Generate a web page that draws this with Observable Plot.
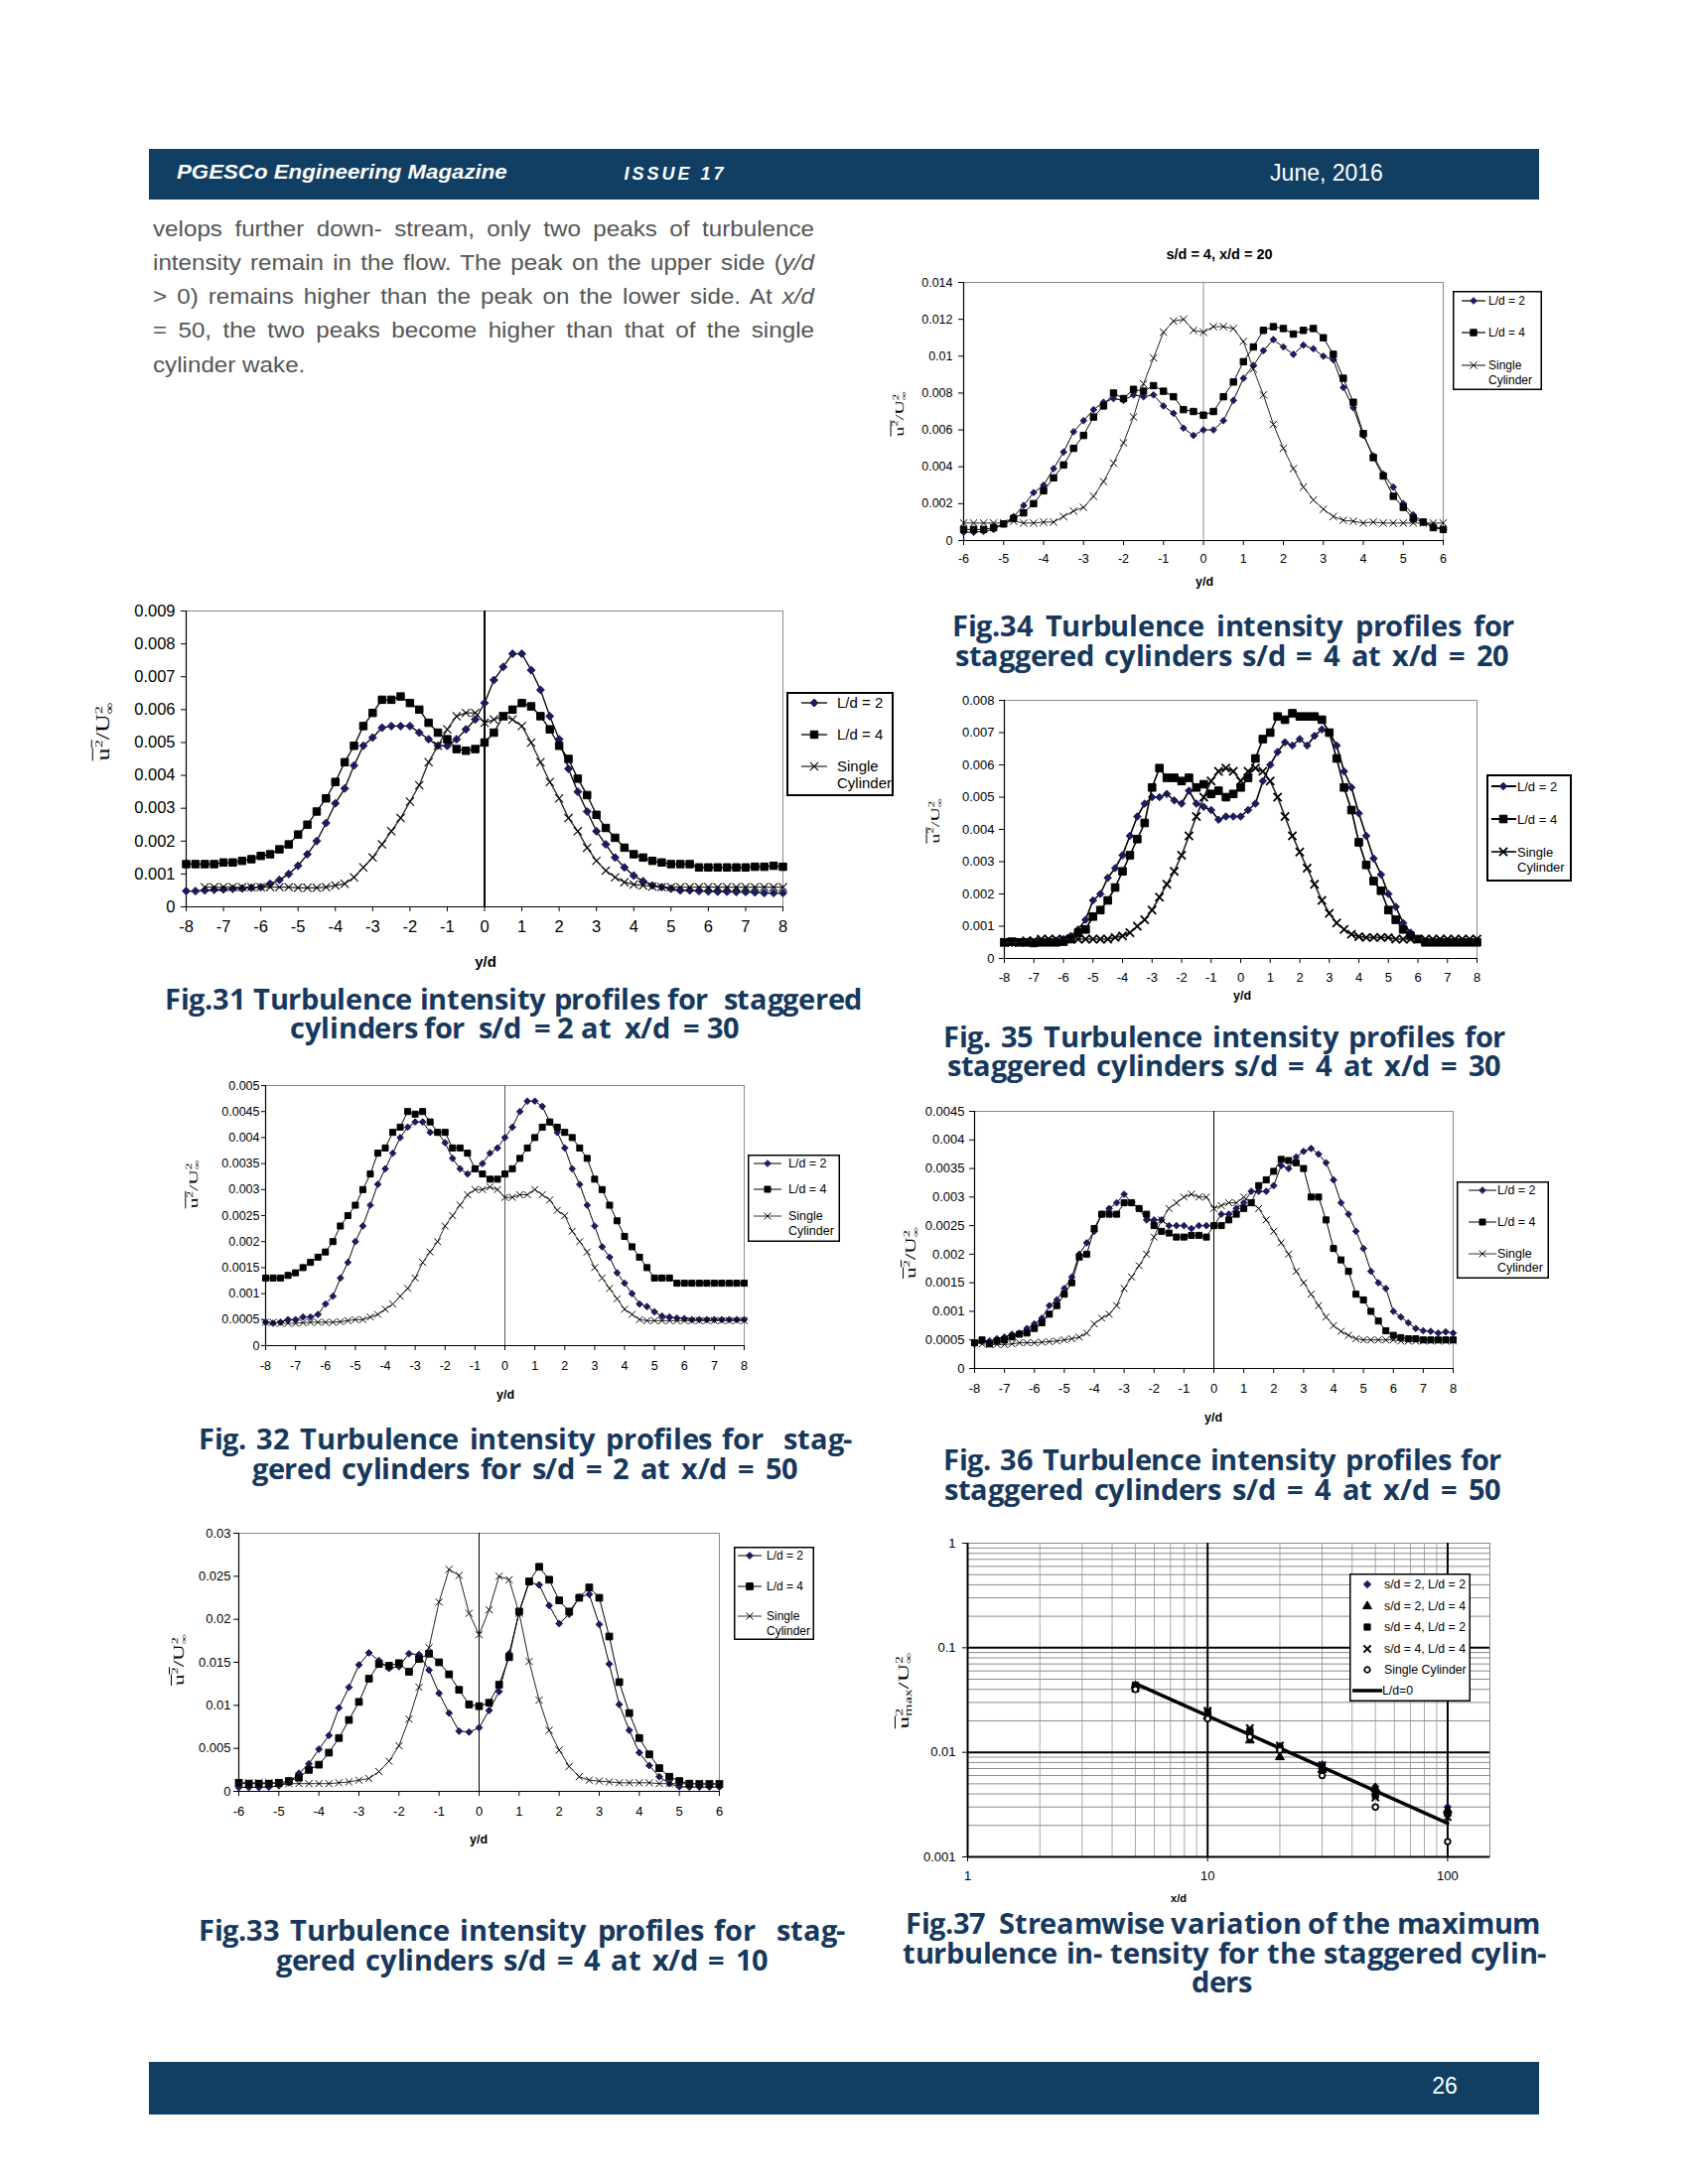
<!DOCTYPE html>
<html><head><meta charset="utf-8">
<script src="https://cdn.jsdelivr.net/npm/d3@7"></script>
<script src="https://cdn.jsdelivr.net/npm/@observablehq/plot@0.6"></script>
<style>
@font-face{font-family:"CapOS";src:local("Open Sans Bold"),local("OpenSans-Bold");font-weight:700;ascent-override:78%;descent-override:22%;line-gap-override:0%;}
html,body{margin:0;padding:0;background:#fff;}
#page{position:relative;width:1700px;height:2200px;background:#fff;overflow:hidden;font-family:"Liberation Sans",Arial,sans-serif;}
.ylab{position:absolute;white-space:nowrap;font-family:"Liberation Serif","Times New Roman",serif;color:#000;}
</style>
</head><body><div id="page"></div>
<script>
// ---------- shared axis values ----------
const xs8 = [-8,-7.75,-7.5,-7.25,-7,-6.75,-6.5,-6.25,-6,-5.75,-5.5,-5.25,-5,-4.75,-4.5,-4.25,-4,-3.75,-3.5,-3.25,-3,-2.75,-2.5,-2.25,-2,-1.75,-1.5,-1.25,-1,-0.75,-0.5,-0.25,0,0.25,0.5,0.75,1,1.25,1.5,1.75,2,2.25,2.5,2.75,3,3.25,3.5,3.75,4,4.25,4.5,4.75,5,5.25,5.5,5.75,6,6.25,6.5,6.75,7,7.25,7.5,7.75,8];
const xs6 = [-6,-5.75,-5.5,-5.25,-5,-4.75,-4.5,-4.25,-4,-3.75,-3.5,-3.25,-3,-2.75,-2.5,-2.25,-2,-1.75,-1.5,-1.25,-1,-0.75,-0.5,-0.25,0,0.25,0.5,0.75,1,1.25,1.5,1.75,2,2.25,2.5,2.75,3,3.25,3.5,3.75,4,4.25,4.5,4.75,5,5.25,5.5,5.75,6];
const ticksX8 = [-8,-7,-6,-5,-4,-3,-2,-1,0,1,2,3,4,5,6,7,8];
const ticksX6 = [-6,-5,-4,-3,-2,-1,0,1,2,3,4,5,6];
const seriesNames = ["L/d = 2", "L/d = 4", "Single Cylinder"];

// ---------- Fig.31  s/d = 2, x/d = 30 ----------
const f31TicksY = [0,0.001,0.002,0.003,0.004,0.005,0.006,0.007,0.008,0.009];
const f31_L2 = [
.00048,.00048,.0005,.00052,
.00053,.00055,.00056,.00058,
.0006,.0007,.00082,.001,
.00125,.0016,.002,.00255,
.00315,.0036,.0043,.0049,
.00515,.00545,.0055,.0055,
.0055,.0053,.0051,.0049,
.0049,.0051,.0054,.0057,
.0062,.0069,.0073,.0077,
.0077,.0072,.0066,.0058,
.0051,.0042,.0035,.0029,
.0023,.0019,.0015,.0012,
.00095,.00078,.00065,.0006,
.00055,.0005,.0005,.00048,
.00047,.00046,.00046,.00045,
.00045,.00044,.00042,.00042,
.00042];
const f31_L4 = [
.0013,.0013,.0013,.0013,
.00135,.00135,.0014,.00145,
.00155,.0016,.00175,.0019,
.0022,.0025,.0029,.0033,
.0038,.0044,.0049,.0055,
.0059,.0063,.0063,.0064,
.0062,.006,.0056,.0053,
.0051,.0048,.00475,.0048,
.005,.0053,.0058,.006,
.0062,.0061,.0058,.0054,
.0049,.0045,.0039,.0034,
.0028,.0024,.0021,.0018,
.0016,.0015,.0014,.00135,
.0013,.0013,.0013,.0012,
.0012,.0012,.0012,.0012,
.0012,.00122,.00122,.00125,
.00122];
const f31_S = [
null,null,.0006,.0006,
.0006,.0006,.0006,.0006,
.0006,.0006,.0006,.0006,
.00058,.00058,.00058,.0006,
.00065,.0007,.0009,.0012,
.0015,.0019,.0023,.0027,
.0032,.0037,.0044,.0049,
.0054,.0058,.0059,.0059,
.0056,.0057,.0058,.0057,
.0055,.005,.0044,.0038,
.0033,.0027,.0023,.0018,
.0014,.0011,.0009,.00075,
.00068,.00065,.00062,.0006,
.0006,.0006,.0006,.0006,
.0006,.0006,.0006,.0006,
.0006,.0006,.0006,.0006,
.0006];

// ---------- Fig.34  s/d = 4, x/d = 20 ----------
const f34TicksY = [0,0.002,0.004,0.006,0.008,0.01,0.012,0.014];
const f34_L2 = [
.00045,.00045,.0005,.0006,
.0009,.0013,.0019,.0026,
.003,.0039,.0048,.0059,
.0065,.0071,.0075,.0077,
.0076,.0079,.0078,.0079,
.0073,.0069,.0061,.0057,
.006,.006,.0065,.0076,
.0088,.0095,.0103,.0109,
.0105,.0101,.0106,.0104,
.01,.0098,.0083,.0072,
.0057,.0046,.0036,.0029,
.002,.0014,.001,.0008,
.0006];
const f34_L4 = [
.0006,.0006,.0006,.0007,
.0009,.0012,.0015,.002,
.0027,.0034,.0041,.005,
.0057,.0067,.0073,.008,
.0077,.0082,.0081,.0084,
.0081,.0078,.0071,.007,
.0068,.007,.0078,.0086,
.0097,.0105,.0114,.0116,
.0115,.0112,.0114,.0115,
.011,.0101,.0088,.0075,
.0058,.0045,.0035,.0024,
.0018,.0012,.001,.0007,
.0006];
const f34_S = [
.00095,.00095,.00095,.00095,
.00095,.00105,.00095,.00095,
.001,.001,.0013,.0016,
.0018,.0024,.0032,.0042,
.0053,.0067,.0085,.0099,
.0113,.0119,.012,.0114,
.0113,.0116,.0116,.0115,
.0108,.0093,.0079,.0063,
.005,.0039,.0029,.0022,
.0017,.0013,.0011,.00105,
.00095,.001,.00095,.00095,
.00095,.00095,.00095,.00095,
.00095];

// ---------- Fig.35  s/d = 4, x/d = 30 ----------
const f35TicksY = [0,0.001,0.002,0.003,0.004,0.005,0.006,0.007,0.008];
const f35_L2 = [
.00048,.00048,.0005,.0005,
.0005,.0005,.00052,.00055,
.0006,.0007,.0009,.0012,
.0018,.002,.0025,.0028,
.0032,.0038,.0044,.0048,
.005,.005,.0051,.0049,
.0048,.0052,.0048,.0047,
.0046,.0043,.0044,.0044,
.0044,.0046,.0048,.0055,
.006,.0064,.0067,.0066,
.0068,.0066,.0069,.0071,
.007,.0066,.0058,.0053,
.0045,.0038,.0031,.0026,
.002,.0016,.0011,.0008,
.0006,.0005,.0005,.0005,
.0005,.0005,.0005,.0005,
.0005];
const f35_L4 = [
.0005,.00052,.0005,.0005,
.00048,.0005,.0005,.0005,
.00052,.0006,.0008,.0009,
.0013,.0015,.0018,.0022,
.0027,.0032,.0037,.0042,
.0053,.0059,.0056,.0056,
.0055,.0056,.0053,.0054,
.0051,.0052,.005,.0051,
.0053,.0056,.0062,.0068,
.007,.0075,.0074,.0076,
.0075,.0075,.0075,.0074,
.007,.0062,.0053,.0046,
.0036,.0029,.0024,.0021,
.0015,.0012,.0009,.0007,
.0006,.0005,.0005,.0005,
.0005,.0005,.0005,.0005,
.0005];
const f35_S = [
.0005,.0005,.0005,.00055,
.00055,.0006,.0006,.0006,
.0006,.0006,.0006,.0006,
.0006,.0006,.0006,.00065,
.0007,.0008,.001,.0012,
.0015,.0019,.0023,.0027,
.0032,.0038,.0044,.005,
.0055,.0058,.0059,.0058,
.0055,.0058,.0059,.0058,
.0055,.005,.0044,.0038,
.0033,.0028,.0023,.0018,
.0014,.0011,.0009,.00075,
.00068,.00065,.00065,.00065,
.00065,.0006,.0006,.0006,
.0006,.0006,.0006,.0006,
.0006,.0006,.0006,.0006,
.0006];

// ---------- Fig.32  s/d = 2, x/d = 50 ----------
const f32TicksY = [0,0.0005,0.001,0.0015,0.002,0.0025,0.003,0.0035,0.004,0.0045,0.005];
const f32_L2 = [
.00045,.00043,.00045,.0005,
.0005,.00055,.00055,.0006,
.0008,.00095,.0013,.0016,
.002,.0023,.0027,.0031,
.0034,.0037,.004,.0042,
.0043,.0043,.0041,.0041,
.0039,.0036,.0034,.0033,
.0034,.0035,.0037,.0038,
.004,.0042,.0045,.0047,
.0047,.0046,.0043,.0041,
.0038,.0034,.0031,.0027,
.0023,.0019,.0017,.0014,
.0012,.001,.0008,.00075,
.00065,.00057,.00055,.00053,
.00052,.0005,.0005,.0005,
.0005,.0005,.0005,.0005,
.0005];
const f32_L4 = [
.0013,.0013,.0013,.00135,
.0014,.0015,.0016,.0017,
.0018,.002,.0023,.0025,
.0027,.003,.0033,.0037,
.0038,.0041,.0042,.0045,
.00445,.0045,.0043,.0041,
.0041,.0038,.0038,.0037,
.0034,.0033,.0032,.0032,
.0033,.0034,.0036,.0038,
.004,.0042,.0043,.0042,
.0041,.004,.0038,.0036,
.0032,.003,.0027,.0024,
.0021,.0019,.0017,.0015,
.0013,.0013,.0013,.0012,
.0012,.0012,.0012,.0012,
.0012,.0012,.0012,.0012,
.0012];
const f32_S = [
.00045,.00045,.00043,.00043,
.00043,.00044,.00045,.00045,
.00045,.00045,.00046,.00048,
.0005,.0005,.00055,.0006,
.0007,.0008,.00095,.0011,
.0013,.0016,.0018,.002,
.0023,.0025,.0027,.0029,
.003,.003,.00305,.003,
.00285,.00285,.0029,.0029,
.003,.0029,.0028,.0026,
.0025,.0022,.002,.0018,
.0015,.0013,.0011,.0009,
.0007,.0006,.0005,.00048,
.00048,.00048,.00048,.00048,
.00048,.00048,.00048,.00048,
.00048,.00048,.00048,.00048,
.00048];

// ---------- Fig.36  s/d = 4, x/d = 50 ----------
const f36TicksY = [0,0.0005,0.001,0.0015,0.002,0.0025,0.003,0.0035,0.004,0.0045];
const f36_L2 = [
.00043,.00048,.00048,.00052,
.00055,.0006,.00062,.0007,
.00078,.00088,.0011,.0012,
.0014,.0016,.002,.0022,
.0024,.0027,.0028,.0029,
.00305,.0029,.0028,.0026,
.0026,.0026,.0025,.0025,
.0025,.00245,.0025,.0025,
.0025,.0027,.0027,.0028,
.0029,.0031,.0031,.0031,
.0032,.00355,.0035,.0037,
.0038,.00385,.00375,.0036,
.0033,.0029,.0027,.0024,
.0021,.0017,.0015,.0014,
.001,.0009,.0008,.0007,
.00066,.00065,.00062,.00064,
.00062];
const f36_L4 = [
.00045,.0005,.00043,.00048,
.0005,.00055,.0006,.00062,
.0007,.0008,.00095,.0011,
.0013,.0015,.00195,.002,
.00245,.0027,.0027,.0027,
.0029,.0029,.0028,.0027,
.0025,.0024,.00237,.0023,
.0023,.00233,.00233,.0023,
.0025,.0025,.0026,.0027,
.0028,.0029,.0032,.0033,
.00345,.00366,.00364,.0036,
.0035,.003,.003,.0026,
.0021,.0019,.0017,.0013,
.0012,.001,.00083,.00066,
.00058,.00054,.00052,.00052,
.0005,.0005,.0005,.0005,
.0005];
const f36_S = [
.00045,.00043,.00042,.00042,
.00042,.00043,.00045,.00045,
.00045,.00046,.00047,.00048,
.0005,.00052,.00055,.00062,
.00078,.00088,.00095,.0011,
.0014,.0016,.0018,.002,
.0023,.0026,.0028,.0029,
.003,.00305,.003,.003,
.0028,.00285,.0029,.0029,
.003,.0029,.0028,.0026,
.0024,.0022,.002,.0017,
.0015,.0013,.0011,.0009,
.00075,.00065,.00058,.00052,
.0005,.0005,.0005,.0005,
.0005,.00048,.00048,.00048,
.00048,.00048,.00048,.00048,
.00048];

// ---------- Fig.33  s/d = 4, x/d = 10 ----------
const f33TicksY = [0,0.005,0.01,0.015,0.02,0.025,0.03];
const f33_L2 = [
.00046,.00046,.00046,.0005,
.00065,.001,.0021,.0032,
.0049,.0065,.0097,.0121,
.0147,.0161,.0152,.0143,
.0145,.016,.0159,.0141,
.0114,.0091,.007,.0069,
.0074,.0094,.0116,.016,
.0208,.0243,.024,.0216,
.0195,.0206,.0226,.0229,
.0194,.0148,.0101,.0071,
.0045,.003,.0017,.0009,
.00054,.0005,.0005,.0005,
.0005];
const f33_L4 = [
.001,.0009,.0009,.0009,
.001,.0012,.0016,.0025,
.0031,.0045,.0062,.0083,
.0104,.0131,.0148,.0146,
.0149,.0139,.0154,.016,
.015,.0136,.0118,.0101,
.0099,.0103,.0124,.0156,
.0209,.0244,.0261,.0246,
.0222,.0209,.0225,.0237,
.0225,.018,.0127,.0091,
.0062,.0043,.0027,.0017,
.0012,.0009,.00085,.00085,
.00085];
const f33_S = [
.001,.001,.001,.001,
.001,.0009,.0009,.0009,
.0009,.0009,.001,.0011,
.0013,.0015,.0023,.0035,
.0053,.0084,.0121,.0167,
.022,.0258,.0251,.0207,
.0182,.0211,.025,.0246,
.0207,.0151,.0106,.0071,
.0048,.0029,.0017,.0013,
.0012,.0011,.001,.001,
.001,.001,.0009,.0009,
.0009,.0009,.0009,.0009,
.0009];

// ---------- Fig.37  maximum turbulence intensity vs x/d ----------
const f37_xd = [5, 10, 15, 20, 30, 50, 100];
const f37_s2L2 = [0.042, 0.023, 0.015, 0.0115, 0.0077, 0.0047, 0.0030];
const f37_s2L4 = [0.043, 0.022, 0.013, 0.009, 0.0068, 0.0045, 0.0028];
const f37_s4L2 = [0.044, 0.0243, 0.016, 0.011, 0.0071, 0.0039, 0.0026];
const f37_s4L4 = [0.041, 0.025, 0.017, 0.0116, 0.0075, 0.0037, 0.0024];
const f37_single = [0.040, 0.021, 0.014, 0.0105, 0.006, 0.003, 0.0014];
const f37_fitX = [5, 100];
const f37_fitY = [0.0455, 0.0021];
const f37Names = ["s/d = 2, L/d = 2", "s/d = 2, L/d = 4", "s/d = 4, L/d = 2", "s/d = 4, L/d = 4", "Single Cylinder", "L/d=0"];
const f37TicksX = [1, 10, 100];
const f37TicksY = [0.001, 0.01, 0.1, 1];
const f37MinorX = [2,3,4,5,6,7,8,9,20,30,40,50,60,70,80,90];
const f37MinorY = [0.002,0.003,0.004,0.005,0.006,0.007,0.008,0.009,0.02,0.03,0.04,0.05,0.06,0.07,0.08,0.09,0.2,0.3,0.4,0.5,0.6,0.7,0.8,0.9];
const f37MajorX = [10, 100];
const f37MajorY = [0.01, 0.1];

// ---------- helpers ----------
const page = document.getElementById("page");
const NAVY = "#1b1b5e";
const CAP = "#17385d";
const FONT = "'Liberation Sans', Arial, sans-serif";
const fmtNum = d => d === 0 ? "0" : String(+d.toFixed(6));
const SYM = {diamond2: d3.symbolDiamond2, square: d3.symbolSquare, times: d3.symbolTimes, triangle: d3.symbolTriangle, circle: d3.symbolCircle};

function el(tag, css, html) {
  const e = document.createElement(tag);
  e.style.cssText = css;
  if (html != null) e.innerHTML = html;
  page.appendChild(e);
  return e;
}
function textAt(cx, cy, html, css) {
  return el("div", `position:absolute;left:${cx}px;top:${cy}px;transform:translate(-50%,-50%);white-space:nowrap;${css}`, html);
}
// a line of text stretched between x1 and x2 (word spacing, and a horizontal scale if needed)
function fitLine(html, x1, x2, cy, lh, css, sx) {
  sx = sx || 1;
  const d = el("div", `position:absolute;left:${x1}px;top:${cy - lh / 2}px;height:${lh}px;line-height:${lh}px;white-space:pre;transform-origin:0 50%;transform:scaleX(${sx});${css}`, html);
  const w = d.getBoundingClientRect().width;
  const n = (d.textContent.match(/ /g) || []).length;
  const target = x2 - x1;
  if (n > 0) {
    let ws = (target - w) / sx / n;
    if (ws < -1) {
      ws = -1;
      d.style.wordSpacing = ws + "px";
      const w2 = d.getBoundingClientRect().width;
      d.style.transform = `scaleX(${sx * target / w2})`;
    } else d.style.wordSpacing = ws + "px";
  } else {
    d.style.left = (x1 + (target - w) / 2) + "px";
  }
  return d;
}
function stack(a, b) {
  return `<span style="display:inline-block;vertical-align:-0.35em;font-size:0.62em;line-height:0.95;text-align:left"><span style="display:block">${a}</span><span style="display:block">${b}</span></span>`;
}
function yLabel(cx, cy, fs, sc, isMax) {
  const u = isMax ? `<span style="text-decoration:overline">u${stack("2", "max")}</span>` : `<span style="text-decoration:overline">u<sup style="font-size:0.62em">2</sup></span>`;
  const html = `${u}/U${stack("2", "&infin;")}`;
  const d = el("div", `left:${cx}px;top:${cy}px;font-size:${fs}px;transform:translate(-50%,-50%) rotate(-90deg) scaleX(${sc});`, html);
  d.classList.add("ylab");
  return d;
}

function profileChart(o) {
  const mL = 80, mT = 12, mR = 14, mB = 44;
  const W = o.R - o.L + mL + mR, H = o.B - o.T + mT + mB;
  const marks = [Plot.frame({stroke: "#8a8a8a", strokeWidth: 1})];
  if (o.zero) marks.push(Plot.ruleX([0], {stroke: o.zero, strokeWidth: o.zeroW}));
  marks.push(Plot.ruleX([o.xDomain[0]], {stroke: "#000", strokeWidth: 1.2}));
  marks.push(Plot.ruleY([o.yDomain[0]], {stroke: "#000", strokeWidth: 1.2}));
  marks.push(Plot.axisX({ticks: o.xTicks, tickFormat: d => String(d), tickSize: 5, tickPadding: o.xPad, label: null}));
  marks.push(Plot.axisY({ticks: o.yTicks, tickFormat: fmtNum, tickSize: o.yTick || 5, tickPadding: o.yPad, label: null}));
  o.series.forEach(s => {
    const data = o.xs.map((x, i) => ({x, y: s.v[i]})).filter(d => d.y != null);
    marks.push(Plot.line(data, {x: "x", y: "y", stroke: s.lineColor || "#000", strokeWidth: o.lw}));
    marks.push(Plot.dot(data, {x: "x", y: "y", symbol: s.sym, r: s.r, fill: s.fill, stroke: s.stroke, strokeWidth: s.sw || 1}));
  });
  const p = Plot.plot({
    width: W, height: H, marginLeft: mL, marginRight: mR, marginTop: mT, marginBottom: mB,
    x: {domain: o.xDomain}, y: {domain: o.yDomain},
    style: {background: "transparent", fontFamily: FONT, fontSize: o.fs + "px", color: "#000", overflow: "visible"},
    marks
  });
  p.style.position = "absolute";
  p.style.left = (o.L - mL) + "px";
  p.style.top = (o.T - mT) + "px";
  page.appendChild(p);
}

function legendBox(o) {
  const svg = d3.create("svg").attr("width", o.w).attr("height", o.h)
    .style("position", "absolute").style("left", o.x + "px").style("top", o.y + "px").style("overflow", "visible");
  svg.append("rect").attr("x", o.bw / 2).attr("y", o.bw / 2).attr("width", o.w - o.bw).attr("height", o.h - o.bw)
    .attr("fill", "#fff").attr("stroke", "#000").attr("stroke-width", o.bw);
  o.items.forEach(it => {
    if (it.line) svg.append("line").attr("x1", it.lx1 ?? o.lx1).attr("x2", it.lx2 ?? o.lx2).attr("y1", it.y).attr("y2", it.y)
      .attr("stroke", it.lineColor || "#000").attr("stroke-width", it.lw || 1);
    if (it.sym) svg.append("path").attr("d", d3.symbol(SYM[it.sym], Math.PI * it.r * it.r)())
      .attr("transform", `translate(${o.mx},${it.y})`).attr("fill", it.fill).attr("stroke", it.stroke || "none").attr("stroke-width", it.sw || 1);
    it.lines.forEach((t, j) => svg.append("text").attr("x", it.tx ?? o.tx).attr("y", it.y + j * o.lh).attr("dy", "0.35em")
      .attr("font-size", o.fs).attr("font-family", FONT).attr("fill", "#000").text(t));
  });
  page.appendChild(svg.node());
}

function seriesStyle(sizes) {
  return [
    {sym: "diamond2", fill: NAVY, stroke: NAVY, r: sizes[0]},
    {sym: "square", fill: "#000", stroke: "#000", r: sizes[1]},
    {sym: "times", fill: "none", stroke: "#000", r: sizes[2], sw: sizes[3] || 1, lineColor: "#222"}
  ];
}
function profileLegend(box, st, lw) {
  const items = [
    Object.assign({}, st[0], {y: box.rows[0], lines: [seriesNames[0]], line: true, lw}),
    Object.assign({}, st[1], {y: box.rows[1], lines: [seriesNames[1]], line: true, lw}),
    Object.assign({}, st[2], {y: box.rows[2], lines: ["Single", "Cylinder"], line: true, lw, lineColor: "#333"})
  ];
  legendBox(Object.assign({}, box, {items}));
}

// ---------- header / footer / text ----------
el("div", "position:absolute;left:150px;top:150px;width:1400px;height:51px;background:#113e63;");
el("div", `position:absolute;left:178px;top:161px;height:26px;line-height:26px;font:italic 700 21px ${FONT};color:#fff;white-space:nowrap;transform-origin:0 50%;transform:scaleX(1.06);`, "PGESCo Engineering Magazine");
textAt(680, 175, "ISSUE 17", `font:italic 700 18px ${FONT};color:#fff;letter-spacing:3px;`);
textAt(1336, 174, "June, 2016", `font:400 23px ${FONT};color:#fff;`);
el("div", "position:absolute;left:150px;top:2077px;width:1400px;height:53px;background:#113e63;");
textAt(1455, 2101, "26", `font:400 23px ${FONT};color:#fff;`);

const paraCss = `font:400 22px ${FONT};color:#555;`;
fitLine("velops further down- stream, only two peaks of turbulence", 154, 820, 232, 28, paraCss, 1.1);
fitLine("intensity remain in the flow. The peak on the upper side (<i>y/d</i>", 154, 820, 266, 28, paraCss, 1.1);
fitLine("&gt; 0) remains higher than the peak on the lower side. At <i>x/d</i>", 154, 820, 300, 28, paraCss, 1.1);
fitLine("= 50, the two peaks become higher than that of the single", 154, 820, 334, 28, paraCss, 1.1);
el("div", `position:absolute;left:154px;top:${369 - 14}px;height:28px;line-height:28px;white-space:nowrap;transform-origin:0 50%;transform:scaleX(1.1);${paraCss}`, "cylinder wake.");

// captions
const capCss = `font:700 29px 'CapOS','Open Sans',sans-serif;color:${CAP};letter-spacing:-0.3px;`;
function cap(t, cy, x1, x2) { fitLine(t, x1, x2, cy, 27, capCss, 1); }
cap("Fig.34 Turbulence intensity profiles for", 631, 959, 1525);
cap("staggered cylinders s/d = 4 at x/d = 20", 661, 962, 1520);
cap("Fig.31 Turbulence intensity profiles for  staggered", 1007, 166, 868);
cap("cylinders for  s/d  = 2 at  x/d  = 30", 1036, 292, 745);
cap("Fig. 35 Turbulence intensity profiles for", 1045, 950, 1516);
cap("staggered cylinders s/d = 4 at x/d = 30", 1074, 954, 1512);
cap("Fig. 32 Turbulence intensity profiles for  stag-", 1450, 200, 858);
cap("gered cylinders for s/d = 2 at x/d = 50", 1480, 254, 804);
cap("Fig. 36 Turbulence intensity profiles for", 1471, 950, 1512);
cap("staggered cylinders s/d = 4 at x/d = 50", 1501, 951, 1512);
cap("Fig.33 Turbulence intensity profiles for  stag-", 1945, 200, 851);
cap("gered cylinders s/d = 4 at x/d = 10", 1975, 278, 774);
cap("Fig.37  Streamwise variation of the maximum", 1938, 912, 1551);
cap("turbulence in- tensity for the staggered cylin-", 1968, 909, 1557);
cap("ders", 1997, 1199, 1262);

// ---------- Fig.34 ----------
textAt(1228, 256, "s/d = 4, x/d = 20", `font:700 14.5px ${FONT};color:#000;`);
const st34 = seriesStyle([3, 3.6, 3.4, 1]);
profileChart({L: 970, T: 284, R: 1453, B: 544, xs: xs6, xDomain: [-6, 6], yDomain: [0, 0.014], xTicks: ticksX6, yTicks: f34TicksY,
  fs: 12.5, xPad: 9, yPad: 6, lw: 1, zero: "#8a8a8a", zeroW: 1,
  series: [Object.assign({v: f34_L2}, st34[0]), Object.assign({v: f34_L4}, st34[1]), Object.assign({v: f34_S}, st34[2])]});
textAt(1213, 586, "y/d", `font:700 12.5px ${FONT};color:#000;`);
yLabel(906, 417, 13, 1.55, false);
profileLegend({x: 1463, y: 293, w: 90, h: 100, bw: 1.5, lx1: 9, lx2: 33, mx: 21, tx: 36, fs: 12, lh: 15, rows: [10, 42, 75]}, st34, 1.2);

// ---------- Fig.31 ----------
const st31 = seriesStyle([3.6, 4.2, 3.8, 1.1]);
profileChart({L: 187, T: 615, R: 788, B: 913, xs: xs8, xDomain: [-8, 8], yDomain: [0, 0.009], xTicks: ticksX8, yTicks: f31TicksY,
  fs: 16.5, xPad: 9, yPad: 6, lw: 1.3, zero: "#000", zeroW: 2,
  series: [Object.assign({v: f31_L2}, st31[0]), Object.assign({v: f31_L4}, st31[1]), Object.assign({v: f31_S}, st31[2])]});
textAt(489, 968, "y/d", `font:700 15px ${FONT};color:#000;`);
yLabel(104, 737, 18, 1.45, false);
profileLegend({x: 792, y: 697, w: 108, h: 105, bw: 2, lx1: 15, lx2: 41, mx: 28, tx: 51, fs: 15, lh: 17, rows: [11, 43, 75]}, st31, 1.3);

// ---------- Fig.35 ----------
const st35 = seriesStyle([3.4, 4.3, 3.8, 1.8]);
profileChart({L: 1011, T: 705, R: 1487, B: 965, xs: xs8, xDomain: [-8, 8], yDomain: [0, 0.008], xTicks: ticksX8, yTicks: f35TicksY,
  fs: 13, xPad: 9, yPad: 5, lw: 1.6, zero: null,
  series: [Object.assign({v: f35_L2}, st35[0]), Object.assign({v: f35_L4}, st35[1]), Object.assign({v: f35_S}, st35[2])]});
textAt(1251, 1003, "y/d", `font:700 12.5px ${FONT};color:#000;`);
yLabel(942, 827, 13, 1.55, false);
profileLegend({x: 1497, y: 780, w: 86, h: 108, bw: 2, lx1: 5, lx2: 30, mx: 17, tx: 31, fs: 13, lh: 15, rows: [12, 45, 78]}, st35, 2);

// ---------- Fig.32 ----------
const st32 = seriesStyle([3, 3.4, 3.2, 1]);
profileChart({L: 267, T: 1093, R: 749, B: 1355, xs: xs8, xDomain: [-8, 8], yDomain: [0, 0.005], xTicks: ticksX8, yTicks: f32TicksY,
  fs: 12.5, xPad: 11, yPad: 2, yTick: 4, lw: 1, zero: "#555", zeroW: 1,
  series: [Object.assign({v: f32_L2}, st32[0]), Object.assign({v: f32_L4}, st32[1]), Object.assign({v: f32_S}, st32[2])]});
textAt(509, 1405, "y/d", `font:700 12.5px ${FONT};color:#000;`);
yLabel(195, 1193, 13.5, 1.6, false);
profileLegend({x: 753, y: 1163, w: 93, h: 88, bw: 1.5, lx1: 6, lx2: 34, mx: 20, tx: 41, fs: 12.5, lh: 15, rows: [9, 35, 62]}, st32, 1);

// ---------- Fig.36 ----------
const st36 = seriesStyle([3, 3.4, 3.2, 1]);
profileChart({L: 981, T: 1119, R: 1463, B: 1378, xs: xs8, xDomain: [-8, 8], yDomain: [0, 0.0045], xTicks: ticksX8, yTicks: f36TicksY,
  fs: 13, xPad: 10, yPad: 5, lw: 1, zero: "#000", zeroW: 1,
  series: [Object.assign({v: f36_L2}, st36[0]), Object.assign({v: f36_L4}, st36[1]), Object.assign({v: f36_S}, st36[2])]});
textAt(1222, 1428, "y/d", `font:700 12.5px ${FONT};color:#000;`);
yLabel(917, 1262, 14, 1.65, false);
profileLegend({x: 1467, y: 1190, w: 93, h: 98, bw: 1.5, lx1: 12, lx2: 40, mx: 26, tx: 41, fs: 12.5, lh: 14, rows: [9, 41, 73]}, st36, 1);

// ---------- Fig.33 ----------
const st33 = seriesStyle([3.1, 3.8, 3.3, 1]);
profileChart({L: 240, T: 1544, R: 724, B: 1804, xs: xs6, xDomain: [-6, 6], yDomain: [0, 0.03], xTicks: ticksX6, yTicks: f33TicksY,
  fs: 13, xPad: 10, yPad: 3, lw: 1, zero: "#000", zeroW: 1,
  series: [Object.assign({v: f33_L2}, st33[0]), Object.assign({v: f33_L4}, st33[1]), Object.assign({v: f33_S}, st33[2])]});
textAt(482, 1853, "y/d", `font:700 12.5px ${FONT};color:#000;`);
yLabel(180, 1672, 14, 1.65, false);
profileLegend({x: 739, y: 1558, w: 81, h: 94, bw: 1.5, lx1: 4, lx2: 28, mx: 16, tx: 33, fs: 12, lh: 15, rows: [9, 40, 70]}, st33, 1);

// ---------- Fig.37 ----------
(function () {
  const L = 974, T = 1554, R = 1500, B = 1870, mL = 80, mT = 12, mR = 14, mB = 44;
  const st = [
    {v: f37_s2L2, sym: "diamond2", fill: NAVY, stroke: NAVY, r: 3.3},
    {v: f37_s2L4, sym: "triangle", fill: "#000", stroke: "#000", r: 3.3},
    {v: f37_s4L2, sym: "square", fill: "#000", stroke: "#000", r: 3.5},
    {v: f37_s4L4, sym: "times", fill: "none", stroke: "#000", r: 3.4, sw: 2},
    {v: f37_single, sym: "circle", fill: "#fff", stroke: "#000", r: 2.8, sw: 1.8}
  ];
  const fit = f37_fitX.map((x, i) => ({x, y: f37_fitY[i]}));
  const marks = [
    Plot.ruleX(f37MinorX, {stroke: "#a8a8a8", strokeWidth: 1}),
    Plot.ruleY(f37MinorY, {stroke: "#8a8a8a", strokeWidth: 1}),
    Plot.frame({stroke: "#8a8a8a"}),
    Plot.ruleX(f37MajorX, {stroke: "#000", strokeWidth: 2}),
    Plot.ruleY(f37MajorY, {stroke: "#000", strokeWidth: 2}),
    Plot.ruleX([1], {stroke: "#000", strokeWidth: 2}),
    Plot.ruleY([0.001], {stroke: "#000", strokeWidth: 2}),
    Plot.axisX({ticks: f37TicksX, tickFormat: d => String(d), tickSize: 5, tickPadding: 9, label: null}),
    Plot.axisY({ticks: f37TicksY, tickFormat: d => String(d), tickSize: 5, tickPadding: 7, label: null}),
    Plot.line(fit, {x: "x", y: "y", stroke: "#000", strokeWidth: 3.5})
  ];
  st.forEach(s => {
    const data = f37_xd.map((x, i) => ({x, y: s.v[i]}));
    marks.push(Plot.dot(data, {x: "x", y: "y", symbol: s.sym, r: s.r, fill: s.fill, stroke: s.stroke, strokeWidth: s.sw || 1}));
  });
  const p = Plot.plot({
    width: R - L + mL + mR, height: B - T + mT + mB, marginLeft: mL, marginRight: mR, marginTop: mT, marginBottom: mB,
    x: {type: "log", domain: [1, 150]}, y: {type: "log", domain: [0.001, 1]},
    style: {background: "transparent", fontFamily: FONT, fontSize: "13px", color: "#000", overflow: "visible"},
    marks
  });
  p.style.position = "absolute"; p.style.left = (L - mL) + "px"; p.style.top = (T - mT) + "px";
  page.appendChild(p);
  textAt(1187, 1912, "x/d", `font:700 11px ${FONT};color:#000;`);
  yLabel(911, 1703, 15, 1.7, true);
  const rows = [11, 33, 54, 76, 97, 118];
  const items = st.map((s, i) => Object.assign({}, s, {y: rows[i], lines: [f37Names[i]]}));
  items.push({y: rows[5], lines: [f37Names[5]], line: true, lw: 3.5, lx1: 3, lx2: 33, tx: 33});
  legendBox({x: 1359, y: 1585, w: 122, h: 129, bw: 1.5, mx: 18, tx: 35, fs: 12.3, lh: 15, items});
})();
</script></body></html>
